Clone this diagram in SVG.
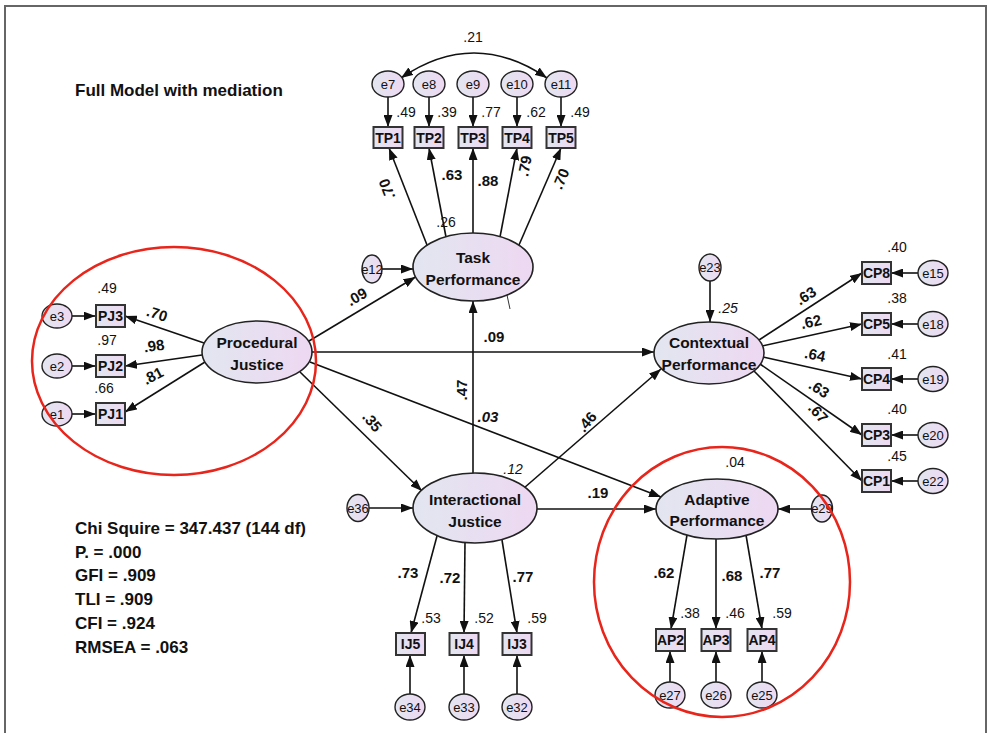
<svg xmlns="http://www.w3.org/2000/svg" width="988" height="733" viewBox="0 0 988 733">
<defs>
<linearGradient id="g" x1="0" y1="0" x2="1" y2="0">
<stop offset="0" stop-color="#e2e6f0"/>
<stop offset="1" stop-color="#eed8f2"/>
</linearGradient>
<marker id="ah" viewBox="0 0 12 9" refX="12" refY="4.5" markerWidth="12" markerHeight="9" markerUnits="userSpaceOnUse" orient="auto-start-reverse">
<path d="M0,0 L12,4.5 L0,9 z" fill="#111"/>
</marker>
</defs>
<style>
.ln{stroke:#111;stroke-width:1.6;fill:none;marker-end:url(#ah)}
.dbl{stroke:#111;stroke-width:1.6;fill:none;marker-end:url(#ah);marker-start:url(#ah)}
.lat{fill:url(#g);stroke:#222;stroke-width:1.6}
.err{fill:url(#g);stroke:#222;stroke-width:1.4}
.obs{fill:url(#g);stroke:#333;stroke-width:2}
.red{fill:none;stroke:#e8251b;stroke-width:2.5}
text{font-family:"Liberation Sans",Arial,sans-serif;fill:#111}
.nt{font-size:15.5px;font-weight:bold;text-anchor:middle}
.it{font-size:14px;font-weight:bold;text-anchor:middle}
.et{font-size:13px;text-anchor:middle}
.co{font-size:15px;font-weight:bold;text-anchor:middle}
.r2{font-size:14px;text-anchor:middle}
.st{font-size:17px;font-weight:bold}
</style>
<rect width="988" height="733" fill="#fff"/>
<path d="M5,733 L5,6 L986,6 L986,733" fill="none" stroke="#666" stroke-width="2"/>

<text class="st" x="75" y="96">Full Model with mediation</text>

<g id="connectors">
<path class="ln" d="M388,97 L388,127"/>
<path class="ln" d="M429,97 L429,127"/>
<path class="ln" d="M473,97 L473,127"/>
<path class="ln" d="M517,97 L517,127"/>
<path class="ln" d="M561,97 L561,127"/>
<path class="dbl" d="M401,78 Q474,28 547,78"/>
<path class="ln" d="M427,245 L389,148"/>
<path class="ln" d="M446,237 L429,148"/>
<path class="ln" d="M473,233 L473,148"/>
<path class="ln" d="M500,237 L517,148"/>
<path class="ln" d="M519,245 L561,148"/>
<path class="ln" d="M382,269 L413,269"/>
<path class="ln" d="M72,316 L95.5,316"/>
<path class="ln" d="M72,366 L95.5,366"/>
<path class="ln" d="M72,414 L95.5,414"/>
<path class="ln" d="M204,343 L125,316"/>
<path class="ln" d="M202,355 L125,366"/>
<path class="ln" d="M205,362 L125,412"/>
<path class="ln" d="M309,341 L415.5,277"/>
<path class="ln" d="M312,352 L654,352"/>
<path class="ln" d="M310,362 L661,497"/>
<path class="ln" d="M300,372 L422,491"/>
<path class="ln" d="M473,474 L473,301"/>
<path class="ln" d="M524,488 L661,369"/>
<path class="ln" d="M537,509 L656,509"/>
<path class="ln" d="M369,508 L413,508"/>
<path class="ln" d="M710,281 L710,322"/>
<path class="ln" d="M811.5,509 L778,509"/>
<path class="ln" d="M759,340 L862,273"/>
<path class="ln" d="M762,346 L862,324"/>
<path class="ln" d="M763,357 L862,379"/>
<path class="ln" d="M760,364 L862,435"/>
<path class="ln" d="M754,371 L862,481"/>
<path class="ln" d="M918,273 L891,273"/>
<path class="ln" d="M918,324 L891,324"/>
<path class="ln" d="M918,379 L891,379"/>
<path class="ln" d="M918,435 L891,435"/>
<path class="ln" d="M918,481 L891,481"/>
<path class="ln" d="M437,536 L411,633"/>
<path class="ln" d="M465,542 L464,633"/>
<path class="ln" d="M502,540 L517,633"/>
<path class="ln" d="M410,694 L410,655"/>
<path class="ln" d="M464,694 L464,655"/>
<path class="ln" d="M517,694 L517,655"/>
<path class="ln" d="M687,535 L671,629"/>
<path class="ln" d="M716,539 L716,629"/>
<path class="ln" d="M746,535 L762,629"/>
<path class="ln" d="M670,682 L670,651"/>
<path class="ln" d="M716,682 L716,651"/>
<path class="ln" d="M762,682 L762,651"/>
<path d="M507,295 L510,309" stroke="#333" stroke-width="1" fill="none"/>
</g>

<g id="labels">
<text class="r2" x="473" y="42">.21</text>
<text class="r2" x="406" y="117">.49</text>
<text class="r2" x="447" y="117">.39</text>
<text class="r2" x="491" y="117">.77</text>
<text class="r2" x="536" y="117">.62</text>
<text class="r2" x="580" y="117">.49</text>
<text class="co" transform="translate(387,189) rotate(-111)" y="5">.70</text>
<text class="co" x="452" y="180">.63</text>
<text class="co" x="488" y="186">.88</text>
<text class="co" transform="translate(525,166) rotate(-79)" y="5">.79</text>
<text class="co" transform="translate(561,179) rotate(-67)" y="5">.70</text>
<text class="r2" x="446" y="227">.26</text>
<text class="r2" x="107" y="293">.49</text>
<text class="r2" x="107" y="345">.97</text>
<text class="r2" x="104" y="393">.66</text>
<text class="co" transform="translate(157,314) rotate(18)" y="5">.70</text>
<text class="co" transform="translate(154,346) rotate(-8)" y="5">.98</text>
<text class="co" transform="translate(153,376) rotate(-28)" y="5">.81</text>
<text class="co" transform="translate(357,297) rotate(-30)" y="5">.09</text>
<text class="co" x="494" y="342">.09</text>
<text class="co" x="488" y="422" font-style="italic">.03</text>
<text class="co" transform="translate(372,422) rotate(50)" y="5">.35</text>
<text class="co" transform="translate(462,390) rotate(-90)" y="5">.47</text>
<text class="co" transform="translate(587,422) rotate(-50)" y="5">.46</text>
<text class="co" x="598" y="498">.19</text>
<text class="r2" x="728" y="313" font-style="italic">.25</text>
<text class="r2" x="513" y="474" font-style="italic">.12</text>
<text class="r2" x="735" y="467">.04</text>
<text class="co" transform="translate(806,296) rotate(-33)" y="5">.63</text>
<text class="co" transform="translate(811,322) rotate(-13)" y="5">.62</text>
<text class="co" transform="translate(815,355) rotate(12)" y="5">.64</text>
<text class="co" transform="translate(819,389) rotate(33)" y="5">.63</text>
<text class="co" transform="translate(818,413) rotate(47)" y="5">.67</text>
<text class="r2" x="897" y="252">.40</text>
<text class="r2" x="897" y="303">.38</text>
<text class="r2" x="897" y="359">.41</text>
<text class="r2" x="897" y="414">.40</text>
<text class="r2" x="897" y="461">.45</text>
<text class="co" x="408" y="578">.73</text>
<text class="co" x="450" y="583">.72</text>
<text class="co" x="523" y="582">.77</text>
<text class="r2" x="431" y="623">.53</text>
<text class="r2" x="484" y="623">.52</text>
<text class="r2" x="537" y="623">.59</text>
<text class="co" x="664" y="578">.62</text>
<text class="co" x="732" y="581">.68</text>
<text class="co" x="770" y="578">.77</text>
<text class="r2" x="690" y="618">.38</text>
<text class="r2" x="735" y="618">.46</text>
<text class="r2" x="782" y="618">.59</text>
</g>

<g id="TaskPerformance"><ellipse class="lat" cx="473" cy="267" rx="60" ry="34"/><text class="nt" x="473" y="263">Task</text><text class="nt" x="473" y="285">Performance</text></g>
<g id="ProceduralJustice"><ellipse class="lat" cx="257" cy="352" rx="55" ry="31"/><text class="nt" x="257" y="348">Procedural</text><text class="nt" x="257" y="370">Justice</text></g>
<g id="ContextualPerformance"><ellipse class="lat" cx="709" cy="353" rx="55" ry="31"/><text class="nt" x="709" y="348">Contextual</text><text class="nt" x="709" y="370">Performance</text></g>
<g id="InteractionalJustice"><ellipse class="lat" cx="475" cy="508" rx="62" ry="35"/><text class="nt" x="475" y="505">Interactional</text><text class="nt" x="475" y="527">Justice</text></g>
<g id="AdaptivePerformance"><ellipse class="lat" cx="717" cy="509" rx="61" ry="30"/><text class="nt" x="717" y="505">Adaptive</text><text class="nt" x="717" y="526">Performance</text></g>

<g id="e7"><ellipse class="err" cx="388" cy="84" rx="16" ry="13"/><text class="et" x="388" y="88.5">e7</text></g>
<g id="e8"><ellipse class="err" cx="429" cy="84" rx="16" ry="13"/><text class="et" x="429" y="88.5">e8</text></g>
<g id="e9"><ellipse class="err" cx="473" cy="84" rx="16" ry="13"/><text class="et" x="473" y="88.5">e9</text></g>
<g id="e10"><ellipse class="err" cx="517" cy="84" rx="16" ry="13"/><text class="et" x="517" y="88.5">e10</text></g>
<g id="e11"><ellipse class="err" cx="561" cy="84" rx="16" ry="13"/><text class="et" x="561" y="88.5">e11</text></g>
<g id="TP1"><rect class="obs" x="373.5" y="127" width="29" height="21"/><text class="it" x="388" y="142.5">TP1</text></g>
<g id="TP2"><rect class="obs" x="414.5" y="127" width="29" height="21"/><text class="it" x="429" y="142.5">TP2</text></g>
<g id="TP3"><rect class="obs" x="458.5" y="127" width="29" height="21"/><text class="it" x="473" y="142.5">TP3</text></g>
<g id="TP4"><rect class="obs" x="502.5" y="127" width="29" height="21"/><text class="it" x="517" y="142.5">TP4</text></g>
<g id="TP5"><rect class="obs" x="546.5" y="127" width="29" height="21"/><text class="it" x="561" y="142.5">TP5</text></g>
<g id="e12"><ellipse class="err" cx="372" cy="269" rx="10" ry="14"/><text class="et" x="372" y="273.5">e12</text></g>

<g id="e3"><ellipse class="err" cx="57" cy="316" rx="15" ry="12"/><text class="et" x="57" y="320.5">e3</text></g>
<g id="e2"><ellipse class="err" cx="57" cy="366" rx="15" ry="12"/><text class="et" x="57" y="370.5">e2</text></g>
<g id="e1"><ellipse class="err" cx="57" cy="414" rx="15" ry="12"/><text class="et" x="57" y="418.5">e1</text></g>
<g id="PJ3"><rect class="obs" x="96" y="305" width="29" height="22"/><text class="it" x="110.5" y="321">PJ3</text></g>
<g id="PJ2"><rect class="obs" x="96" y="355" width="29" height="22"/><text class="it" x="110.5" y="371">PJ2</text></g>
<g id="PJ1"><rect class="obs" x="96" y="403" width="29" height="22"/><text class="it" x="110.5" y="419">PJ1</text></g>

<g id="e23"><ellipse class="err" cx="710" cy="267.5" rx="11" ry="13.5"/><text class="et" x="710" y="272">e23</text></g>
<g id="CP8"><rect class="obs" x="862" y="262" width="29" height="22"/><text class="it" x="876.5" y="278">CP8</text></g>
<g id="CP5"><rect class="obs" x="862" y="313" width="29" height="22"/><text class="it" x="876.5" y="329">CP5</text></g>
<g id="CP4"><rect class="obs" x="862" y="368" width="29" height="22"/><text class="it" x="876.5" y="384">CP4</text></g>
<g id="CP3"><rect class="obs" x="862" y="424" width="29" height="22"/><text class="it" x="876.5" y="440">CP3</text></g>
<g id="CP1"><rect class="obs" x="862" y="470" width="29" height="22"/><text class="it" x="876.5" y="486">CP1</text></g>
<g id="e15"><ellipse class="err" cx="933" cy="273" rx="15" ry="12.5"/><text class="et" x="933" y="277.5">e15</text></g>
<g id="e18"><ellipse class="err" cx="933" cy="324" rx="15" ry="12.5"/><text class="et" x="933" y="328.5">e18</text></g>
<g id="e19"><ellipse class="err" cx="933" cy="379" rx="15" ry="12.5"/><text class="et" x="933" y="383.5">e19</text></g>
<g id="e20"><ellipse class="err" cx="933" cy="435" rx="15" ry="12.5"/><text class="et" x="933" y="439.5">e20</text></g>
<g id="e22"><ellipse class="err" cx="933" cy="481" rx="15" ry="12.5"/><text class="et" x="933" y="485.5">e22</text></g>

<g id="e36"><ellipse class="err" cx="358" cy="508" rx="11" ry="13.5"/><text class="et" x="358" y="512.5">e36</text></g>
<g id="IJ5"><rect class="obs" x="396" y="633" width="29" height="22"/><text class="it" x="410.5" y="649">IJ5</text></g>
<g id="IJ4"><rect class="obs" x="449.5" y="633" width="29" height="22"/><text class="it" x="464" y="649">IJ4</text></g>
<g id="IJ3"><rect class="obs" x="502.5" y="633" width="29" height="22"/><text class="it" x="517" y="649">IJ3</text></g>
<g id="e34"><ellipse class="err" cx="410" cy="707" rx="15" ry="13"/><text class="et" x="410" y="711.5">e34</text></g>
<g id="e33"><ellipse class="err" cx="464" cy="707" rx="15" ry="13"/><text class="et" x="464" y="711.5">e33</text></g>
<g id="e32"><ellipse class="err" cx="517" cy="707" rx="15" ry="13"/><text class="et" x="517" y="711.5">e32</text></g>

<g id="e29"><ellipse class="err" cx="822" cy="508.5" rx="10.5" ry="13.5"/><text class="et" x="822" y="513">e29</text></g>
<g id="AP2"><rect class="obs" x="656" y="629" width="29" height="22"/><text class="it" x="670.5" y="645">AP2</text></g>
<g id="AP3"><rect class="obs" x="701.5" y="629" width="29" height="22"/><text class="it" x="716" y="645">AP3</text></g>
<g id="AP4"><rect class="obs" x="747.5" y="629" width="29" height="22"/><text class="it" x="762" y="645">AP4</text></g>
<g id="e27"><ellipse class="err" cx="670" cy="695" rx="15" ry="13"/><text class="et" x="670" y="699.5">e27</text></g>
<g id="e26"><ellipse class="err" cx="716" cy="695" rx="15" ry="13"/><text class="et" x="716" y="699.5">e26</text></g>
<g id="e25"><ellipse class="err" cx="762" cy="695" rx="15" ry="13"/><text class="et" x="762" y="699.5">e25</text></g>

<g id="stats">
<text class="st" x="75" y="534">Chi Squire = 347.437 (144 df)</text>
<text class="st" x="75" y="558">P. = .000</text>
<text class="st" x="75" y="581">GFI = .909</text>
<text class="st" x="75" y="605">TLI = .909</text>
<text class="st" x="75" y="629">CFI = .924</text>
<text class="st" x="75" y="653">RMSEA = .063</text>
</g>

<g id="highlights">
<ellipse class="red" cx="174" cy="361" rx="142" ry="114"/>
<ellipse class="red" cx="722" cy="582" rx="128" ry="135"/>
</g>
</svg>
